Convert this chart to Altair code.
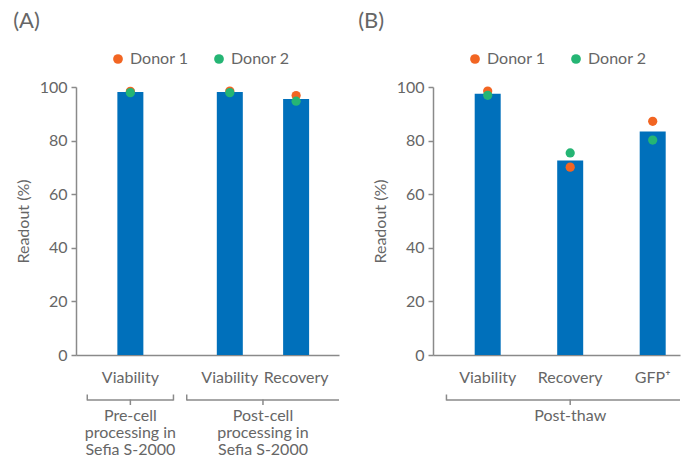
import altair as alt
import pandas as pd

# ---------------- data ----------------
a_categories = ["Viability", "Viability", "Recovery"]
a_groups = ["Pre-cell\nprocessing in\nSefia S-2000",
            "Post-cell\nprocessing in\nSefia S-2000",
            "Post-cell\nprocessing in\nSefia S-2000"]
a_bar = [98.1, 98.1, 95.5]
a_donor1 = [98.4, 98.5, 96.8]
a_donor2 = [97.9, 97.9, 94.7]

b_categories = ["Viability", "Recovery", "GFP\u207a"]
b_groups = ["Post-thaw", "Post-thaw", "Post-thaw"]
b_bar = [97.5, 72.6, 83.4]
b_donor1 = [98.5, 70.1, 87.2]
b_donor2 = [96.9, 75.4, 80.2]

donors = ["Donor 1", "Donor 2"]
y_ticks = [0, 20, 40, 60, 80, 100]

# ---------------- styles ----------------
FONT = "Lato"
TXT = "#666666"
AXC = "#8a8a8a"
BLUE = "#0070BB"
ORANGE = "#F26522"
GREEN = "#25B574"
H = 268


def panel(cats, groups, bars, d1, d2, width, unit_px, x_min, title, title_dx, pad):
    n = len(cats)
    order = []
    gidx = []
    for g in groups:
        if g not in order:
            order.append(g)
        gidx.append(order.index(g))
    xs = [i + 0.5 * gi for i, gi in enumerate(gidx)]
    x_max = x_min + width / unit_px

    bar_df = pd.DataFrame({"x": xs, "cat": cats, "val": bars})
    pt_df = pd.DataFrame({"x": xs + xs, "val": d1 + d2,
                          "donor": [donors[0]] * n + [donors[1]] * n})

    br_rows, end_rows, mid_rows, lab_rows = [], [], [], []
    for k, g in enumerate(order):
        gx = [x for x, gi in zip(xs, gidx) if gi == k]
        left = gx[0] - pad
        right = gx[-1] + pad
        mid = (left + right) / 2
        br_rows.append({"x": left, "x2": min(right, x_max)})
        end_rows.append({"x": left})
        if right <= x_max:
            end_rows.append({"x": right})
        mid_rows.append({"x": mid})
        lab_rows.append({"x": mid, "label": g})
    br_df = pd.DataFrame(br_rows)
    end_df = pd.DataFrame(end_rows)
    mid_df = pd.DataFrame(mid_rows)
    lab_df = pd.DataFrame(lab_rows)

    xscale = alt.Scale(domain=[x_min, x_max], nice=False, zero=False, padding=0)
    xaxis = alt.Axis(labels=False, ticks=False, grid=False, title=None,
                     domainColor=AXC, domainWidth=1.5)
    yscale = alt.Scale(domain=[0, 100], nice=False, padding=0)
    yaxis = alt.Axis(values=y_ticks, tickSize=5, tickColor=AXC, tickWidth=1.5,
                     domainColor=AXC, domainWidth=1.5, grid=False,
                     labelFontSize=16, labelColor=TXT, labelFont=FONT, labelPadding=4,
                     title="Readout (%)", titleFontSize=16, titleColor=TXT,
                     titleFont=FONT, titleFontWeight="normal", titlePadding=8)
    X = alt.X("x:Q", scale=xscale, axis=xaxis)

    bars_l = alt.Chart(bar_df).mark_bar(size=26, color=BLUE).encode(
        x=X, y=alt.Y("val:Q", scale=yscale, axis=yaxis),
    )
    pts_l = alt.Chart(pt_df).mark_point(filled=True, opacity=1, size=85, shape="circle").encode(
        x=X,
        y=alt.Y("val:Q", scale=yscale, axis=yaxis),
        color=alt.Color("donor:N",
                        scale=alt.Scale(domain=donors, range=[ORANGE, GREEN]),
                        legend=alt.Legend(orient="none", legendX=34, legendY=-36,
                                          direction="horizontal", title=None,
                                          labelFontSize=16, labelColor=TXT, labelFont=FONT,
                                          symbolType="circle", symbolSize=95,
                                          symbolStrokeWidth=0, columnPadding=22,
                                          labelOffset=4)),
    )
    cat_l = alt.Chart(bar_df).mark_text(fontSize=16, font=FONT, color=TXT,
                                        baseline="middle").encode(
        x=X, y=alt.value(H + 23), text="cat:N",
    )
    br_l = alt.Chart(br_df).mark_rule(color=AXC, strokeWidth=1.5).encode(
        x=X, x2="x2:Q", y=alt.value(H + 45),
    )
    end_l = alt.Chart(end_df).mark_rule(color=AXC, strokeWidth=1.5).encode(
        x=X, y=alt.value(H + 39.5), y2=alt.value(H + 45.5),
    )
    mid_l = alt.Chart(mid_df).mark_rule(color=AXC, strokeWidth=1.5).encode(
        x=X, y=alt.value(H + 44.5), y2=alt.value(H + 50),
    )
    lab_l = alt.Chart(lab_df).mark_text(fontSize=16, font=FONT, color=TXT,
                                        baseline="top", lineBreak="\n",
                                        lineHeight=17).encode(
        x=X, y=alt.value(H + 53), text="label:N",
    )
    return alt.layer(bars_l, pts_l, cat_l, br_l, end_l, mid_l, lab_l).properties(
        width=width, height=H,
        title=alt.TitleParams(title, anchor="start", dx=title_dx, fontSize=22,
                              fontWeight="normal", color=TXT, font=FONT, offset=18.5),
    )


pa = panel(a_categories, a_groups, a_bar, a_donor1, a_donor2,
           width=263, unit_px=66.3, x_min=-0.82, title="(A)", title_dx=-2, pad=0.65)
pb = panel(b_categories, b_groups, b_bar, b_donor1, b_donor2,
           width=247, unit_px=82.5, x_min=-0.663, title="(B)", title_dx=-14, pad=0.5)

chart = alt.hconcat(pa, pb, spacing=18).resolve_scale(
    x="independent", y="independent", color="independent"
).resolve_legend(color="independent").configure_view(stroke=None).properties(
    padding={"left": 5, "top": 1, "right": 0, "bottom": 0}
)

chart.save("out.html", embed_options={"renderer": "svg", "actions": False})
